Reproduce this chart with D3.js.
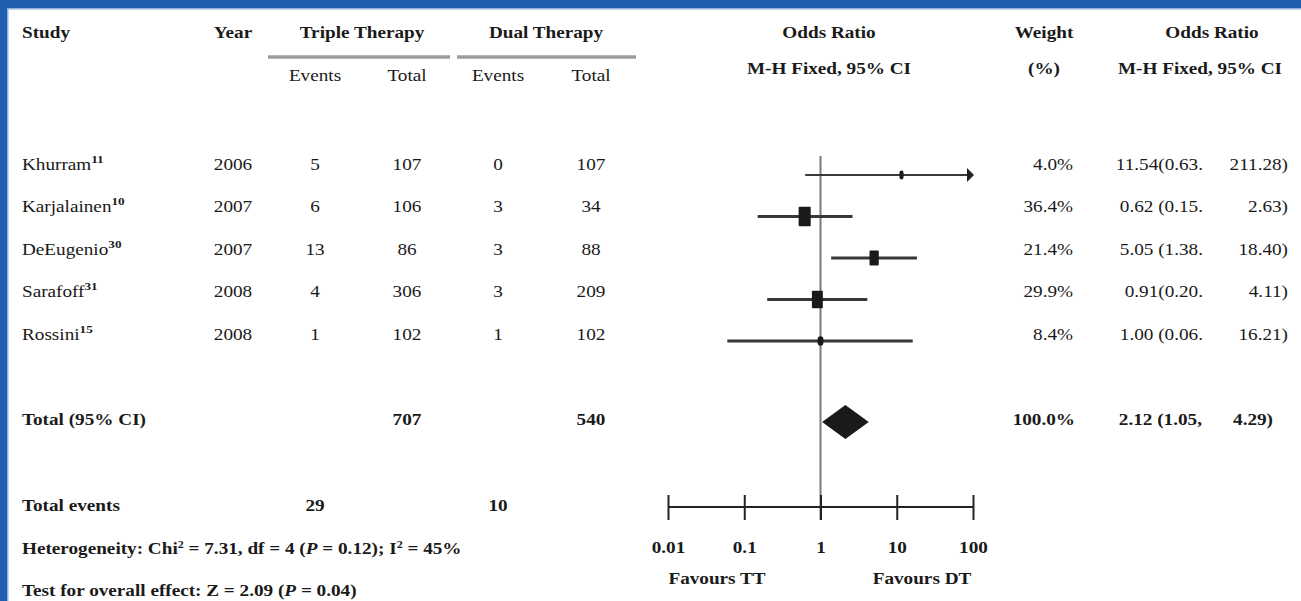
<!DOCTYPE html>
<html><head><meta charset="utf-8">
<script src="https://cdn.jsdelivr.net/npm/d3@7/dist/d3.min.js"></script>
<style>
html,body{margin:0;padding:0;background:#fff;}
svg{display:block;}
text{font-family:"Liberation Serif","Times New Roman",serif;font-size:16px;fill:#1a1a1a;}
</style></head>
<body>
<svg id="chart" width="1301" height="601"></svg>
<script>
// ---- data ----
const studies   = ["Khurram","Karjalainen","DeEugenio","Sarafoff","Rossini"];
const refs      = ["11","10","30","31","15"];
const years     = [2006,2007,2007,2008,2008];
const ttEvents  = [5,6,13,4,1];
const ttTotal   = [107,106,86,306,102];
const dtEvents  = [0,3,3,3,1];
const dtTotal   = [107,34,88,209,102];
const weights   = [4.0,36.4,21.4,29.9,8.4];
const oddsRatio = [11.54,0.62,5.05,0.91,1.00];
const ciLow     = [0.63,0.15,1.38,0.20,0.06];
const ciHigh    = [211.28,2.63,18.40,4.11,16.21];
const orSep     = [""," "," ",""," "];
const totalTT = 707, totalDT = 540, eventsTT = 29, eventsDT = 10;
const pooled = {or:2.12, lo:1.05, hi:4.29, weight:100.0};
const tickValues = [0.01,0.1,1,10,100];
const tickLabels = ["0.01","0.1","1","10","100"];

const svg = d3.select("#chart");
const SX = 1.2;
const f2 = d3.format(".2f"), f1 = d3.format(".1f");

function txt(x, y, s, o={}) {
  const t = svg.append("text")
    .attr("transform", `translate(${x},${y}) scale(${SX},1)`)
    .attr("text-anchor", o.anchor || "start")
    .style("font-weight", o.bold ? "bold" : "normal");
  if (s !== null) t.text(s);
  return t;
}
function sup(t, s) {
  t.append("tspan").attr("dy", -7).style("font-size","11px").style("font-weight","bold").text(s);
  return t;
}

// frame
svg.append("rect").attr("x",0).attr("y",0).attr("width",1301).attr("height",601).attr("fill","#fff");
svg.append("rect").attr("x",0).attr("y",0).attr("width",1301).attr("height",8).attr("fill","#1f5fae");
svg.append("rect").attr("x",0).attr("y",0).attr("width",7).attr("height",601).attr("fill","#1f5fae");
svg.append("rect").attr("x",7).attr("y",8).attr("width",1294).attr("height",1.5).attr("fill","#8db1dc");
svg.append("rect").attr("x",7).attr("y",8).attr("width",1.5).attr("height",593).attr("fill","#8db1dc");

// headers
const hY = 38;
txt(22, hY, "Study", {bold:true});
txt(233, hY, "Year", {bold:true, anchor:"middle"});
txt(362, hY, "Triple Therapy", {bold:true, anchor:"middle"});
txt(546, hY, "Dual Therapy", {bold:true, anchor:"middle"});
txt(829, hY, "Odds Ratio", {bold:true, anchor:"middle"});
txt(1044, hY, "Weight", {bold:true, anchor:"middle"});
txt(1212, hY, "Odds Ratio", {bold:true, anchor:"middle"});
txt(829, 74, "M-H Fixed, 95% CI", {bold:true, anchor:"middle"});
txt(1044, 74, "(%)", {bold:true, anchor:"middle"});
txt(1200, 74, "M-H Fixed, 95% CI", {bold:true, anchor:"middle"});
[[268,450],[457,636]].forEach(([a,b])=>{
  svg.append("line").attr("x1",a).attr("x2",b).attr("y1",57).attr("y2",57)
    .attr("stroke","#9c9c9c").attr("stroke-width",3.5);
});
[[315,"Events"],[407,"Total"],[498,"Events"],[591,"Total"]].forEach(([x,s])=>txt(x,81,s,{anchor:"middle"}));

// scales
const x = d3.scaleLog().domain([0.01,100]).range([668,973]);
const yText = d3.scaleLinear().domain([0,studies.length-1]).range([164,334]);
const yMark = d3.scaleLinear().domain([0,studies.length-1]).range([175,341]);

// study rows
studies.forEach((s,i)=>{
  const by = yText(i) + 5.5;
  sup(txt(22, by, s), refs[i]);
  txt(233, by, years[i], {anchor:"middle"});
  txt(315, by, ttEvents[i], {anchor:"middle"});
  txt(407, by, ttTotal[i], {anchor:"middle"});
  txt(498, by, dtEvents[i], {anchor:"middle"});
  txt(591, by, dtTotal[i], {anchor:"middle"});
  txt(1073, by, f1(weights[i]) + "%", {anchor:"end"});
  txt(1203, by, f2(oddsRatio[i]) + orSep[i] + "(" + f2(ciLow[i]) + ".", {anchor:"end"});
  txt(1288, by, f2(ciHigh[i]) + ")", {anchor:"end"});
});

// total rows
const tY = 419 + 5.5;
txt(22, tY, "Total (95% CI)", {bold:true});
txt(407, tY, totalTT, {bold:true, anchor:"middle"});
txt(591, tY, totalDT, {bold:true, anchor:"middle"});
txt(1075, tY, f1(pooled.weight) + "%", {bold:true, anchor:"end"});
txt(1202, tY, f2(pooled.or) + " (" + f2(pooled.lo) + ",", {bold:true, anchor:"end"});
txt(1273, tY, f2(pooled.hi) + ")", {bold:true, anchor:"end"});

const eY = 505 + 5.5;
txt(22, eY, "Total events", {bold:true});
txt(315, eY, eventsTT, {bold:true, anchor:"middle"});
txt(498, eY, eventsDT, {bold:true, anchor:"middle"});

const het = txt(22, 548 + 5.5, null, {bold:true});
het.append("tspan").text("Heterogeneity: Chi");
het.append("tspan").attr("dy",-6).style("font-size","10px").text("2");
het.append("tspan").attr("dy",6).text(" = 7.31, df = 4 (");
het.append("tspan").style("font-style","italic").text("P");
het.append("tspan").text(" = 0.12); I");
het.append("tspan").attr("dy",-6).style("font-size","10px").text("2");
het.append("tspan").attr("dy",6).text(" = 45%");

const ov = txt(22, 590 + 5.5, null, {bold:true});
ov.append("tspan").text("Test for overall effect: Z = 2.09 (");
ov.append("tspan").style("font-style","italic").text("P");
ov.append("tspan").text(" = 0.04)");

// forest plot
svg.append("line").attr("x1",x(1)).attr("x2",x(1)).attr("y1",156).attr("y2",520)
  .attr("stroke","#7a7a7a").attr("stroke-width",2);

const axisG = svg.append("g").attr("transform","translate(0,495)")
  .call(d3.axisBottom(x).tickValues(tickValues).tickFormat((d,i)=>tickLabels[i]).tickSize(25).tickPadding(22));
axisG.select(".domain").remove();
axisG.selectAll(".tick line").attr("stroke","#222").attr("stroke-width",2);
axisG.selectAll(".tick text").attr("transform",`scale(${SX},1)`)
  .style("font-family","'Liberation Serif',serif").style("font-size","16px").style("font-weight","bold").attr("fill","#1a1a1a");
svg.append("line").attr("x1",x(0.01)).attr("x2",x(100)).attr("y1",507).attr("y2",507)
  .attr("stroke","#222").attr("stroke-width",2);
txt(717, 578 + 5.5, "Favours TT", {bold:true, anchor:"middle"});
txt(922, 578 + 5.5, "Favours DT", {bold:true, anchor:"middle"});

const xmax = x.domain()[1];
studies.forEach((s,i)=>{
  const y = yMark(i);
  const hi = Math.min(ciHigh[i], xmax);
  svg.append("line").attr("x1",x(ciLow[i])).attr("x2",x(hi)).attr("y1",y).attr("y2",y)
    .attr("stroke","#383838").attr("stroke-width", i===0 ? 2 : 2.8);
  if (ciHigh[i] > xmax) {
    const ax = x(xmax);
    svg.append("path").attr("d",`M${ax-6},${y-7}L${ax+1},${y}L${ax-6},${y+7}Z`).attr("fill","#222");
  }
  const w = 2*Math.sqrt(weights[i]), h = Math.max(1.6*w, 9);
  svg.append("rect").attr("x",x(oddsRatio[i])-w/2).attr("y",y-h/2).attr("width",w).attr("height",h)
    .attr("rx", w < 6 ? w/2 : 1).attr("fill","#1a1a1a");
});

const dy = 422, dh = 17;
svg.append("path")
  .attr("d",`M${x(pooled.lo)},${dy}L${x(pooled.or)},${dy-dh}L${x(pooled.hi)},${dy}L${x(pooled.or)},${dy+dh}Z`)
  .attr("fill","#1a1a1a");
</script>
</body></html>
